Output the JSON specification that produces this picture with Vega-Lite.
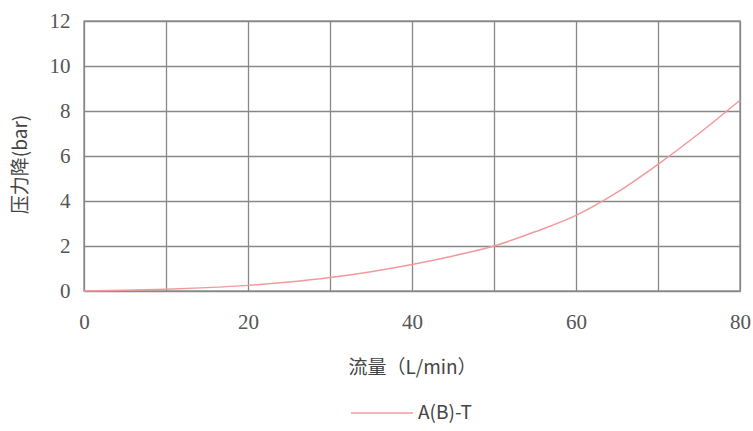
{
  "$schema": "https://vega.github.io/schema/vega-lite/v6.json",
  "width": 656,
  "height": 270,
  "padding": {"left": 84, "top": 21, "right": 13, "bottom": 140},
  "autosize": {"type": "none"},
  "background": "white",
  "config": {
    "view": {"stroke": "#999999", "strokeWidth": 1.5}
  },
  "data": {"values": [
    {"flow": 0, "dp": 0, "s": "A(B)-T"},
    {"flow": 5, "dp": 0.03, "s": "A(B)-T"},
    {"flow": 10, "dp": 0.08, "s": "A(B)-T"},
    {"flow": 15, "dp": 0.15, "s": "A(B)-T"},
    {"flow": 20, "dp": 0.25, "s": "A(B)-T"},
    {"flow": 25, "dp": 0.4, "s": "A(B)-T"},
    {"flow": 30, "dp": 0.6, "s": "A(B)-T"},
    {"flow": 35, "dp": 0.86, "s": "A(B)-T"},
    {"flow": 40, "dp": 1.18, "s": "A(B)-T"},
    {"flow": 45, "dp": 1.56, "s": "A(B)-T"},
    {"flow": 50, "dp": 2.0, "s": "A(B)-T"},
    {"flow": 55, "dp": 2.63, "s": "A(B)-T"},
    {"flow": 60, "dp": 3.36, "s": "A(B)-T"},
    {"flow": 65, "dp": 4.38, "s": "A(B)-T"},
    {"flow": 70, "dp": 5.63, "s": "A(B)-T"},
    {"flow": 75, "dp": 7.0, "s": "A(B)-T"},
    {"flow": 80, "dp": 8.48, "s": "A(B)-T"}
  ]},
  "mark": {"type": "line", "interpolate": "monotone", "strokeWidth": 1.5},
  "encoding": {
    "x": {"field": "flow", "type": "quantitative", "scale": {"domain": [0, 80], "nice": false},
      "axis": {"values": [0, 10, 20, 30, 40, 50, 60, 70, 80], "labelExpr": "datum.value % 20 == 0 ? datum.label : ''", "labelPadding": 20, "labelFlush": false,
        "labelFont": "Liberation Serif", "labelFontSize": 21, "labelColor": "#555555", "gridColor": "#888888", "gridWidth": 1.3, "gridOpacity": 1, "domain": false, "ticks": false,
        "title": "流量（L/min）", "titleFont": "Noto Sans CJK SC", "titleFontSize": 19, "titleFontWeight": "normal", "titleColor": "#444444", "titleY": 76, "titleBaseline": "middle"}},
    "y": {"field": "dp", "type": "quantitative", "scale": {"domain": [0, 12], "nice": false},
      "axis": {"values": [0, 2, 4, 6, 8, 10, 12], "labelPadding": 14, "labelFlush": false,
        "labelFont": "Liberation Serif", "labelFontSize": 21, "labelColor": "#555555", "gridColor": "#888888", "gridWidth": 1.3, "gridOpacity": 1, "domain": false, "ticks": false,
        "title": "压力降(bar)", "titleFont": "Noto Sans CJK SC", "titleFontSize": 19, "titleFontWeight": "normal", "titleColor": "#444444", "titleX": -64, "titleY": 143, "titleAngle": -90, "titleBaseline": "middle", "titleAlign": "center"}},
    "color": {"field": "s", "type": "nominal", "scale": {"range": ["#f29a9a"]},
      "legend": {"title": null, "orient": "none", "legendX": 266, "legendY": 360, "symbolType": "stroke", "symbolSize": 3844, "symbolStrokeWidth": 1.5, "labelFont": "Noto Sans CJK SC", "labelFontSize": 19, "labelColor": "#444444", "labelOffset": 4}}
  }
}
